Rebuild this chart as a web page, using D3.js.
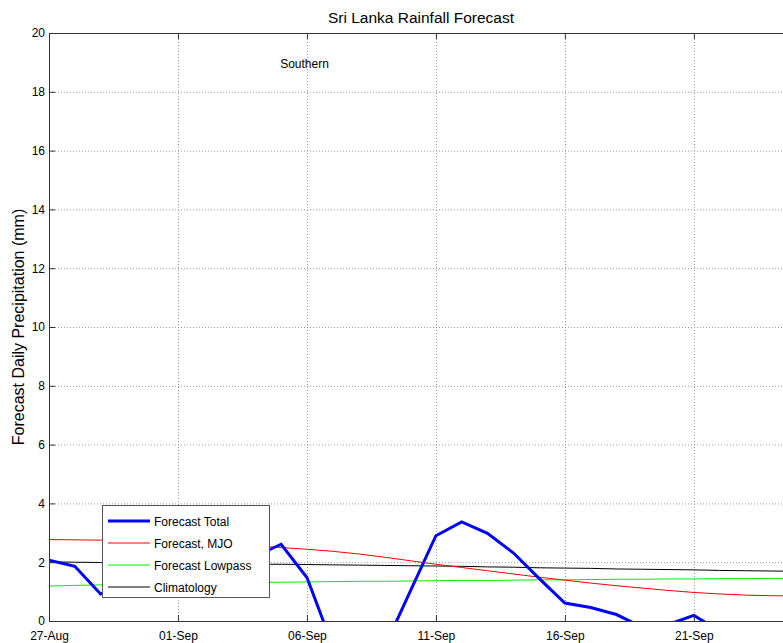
<!DOCTYPE html>
<html>
<head>
<meta charset="utf-8">
<script src="https://cdn.jsdelivr.net/npm/d3@7"></script>
<style>
  html, body { margin: 0; padding: 0; background: #fff; }
  svg { display: block; font-family: "Liberation Sans", Arial, Helvetica, sans-serif; }
</style>
</head>
<body>
<svg id="chart" width="783" height="643"></svg>
<script>
// Day offsets from 27-Aug (daily forecast steps)
const days = d3.range(30);

// Tick positions (day offsets) and their labels
const xTickDays = [0, 5, 10, 15, 20, 25];
const xTickLabels = ["27-Aug", "01-Sep", "06-Sep", "11-Sep", "16-Sep", "21-Sep"];
const yTicks = [0, 2, 4, 6, 8, 10, 12, 14, 16, 18, 20];

// Series values, mm/day (values below zero are clipped by the axes box)
const forecastTotal = [2.07, 1.86, 0.92, 1.3, 1.7, 2.0, 2.2, 2.3, 2.2, 2.61,
                       1.48, -0.85, -1.2, -0.91, 1.0, 2.9, 3.37, 2.98, 2.32, 1.45,
                       0.61, 0.46, 0.22, -0.21, -0.12, 0.19, -0.34, -0.5, -0.6, -0.5];
const forecastMJO = [2.77, 2.76, 2.75, 2.73, 2.70, 2.67, 2.63, 2.59, 2.55, 2.50,
                     2.44, 2.37, 2.28, 2.17, 2.05, 1.93, 1.82, 1.71, 1.60, 1.49,
                     1.39, 1.29, 1.20, 1.12, 1.04, 0.97, 0.92, 0.88, 0.86, 0.85];
const forecastLowpass = [1.19, 1.21, 1.23, 1.25, 1.27, 1.28, 1.29, 1.30, 1.31, 1.32,
                         1.33, 1.34, 1.35, 1.35, 1.36, 1.37, 1.38, 1.38, 1.39, 1.40,
                         1.40, 1.41, 1.42, 1.42, 1.43, 1.43, 1.44, 1.44, 1.45, 1.45];
const climatology = [2.01, 2.00, 1.99, 1.98, 1.97, 1.96, 1.95, 1.94, 1.93, 1.93,
                     1.92, 1.91, 1.90, 1.89, 1.88, 1.87, 1.86, 1.84, 1.83, 1.81,
                     1.80, 1.79, 1.77, 1.76, 1.75, 1.74, 1.72, 1.71, 1.70, 1.69];

const seriesNames = ["Forecast Total", "Forecast, MJO", "Forecast Lowpass", "Climatology"];
const seriesColors = ["#0000ff", "#ff0000", "#00ee00", "#000000"];
const seriesWidths = [3, 1, 1, 1];
const seriesValues = [forecastTotal, forecastMJO, forecastLowpass, climatology];

const svg = d3.select("#chart");
const box = { left: 49, top: 33, bottom: 621, right: 797 };

const x = d3.scaleLinear().domain([0, 29]).range([box.left, box.right]);
const y = d3.scaleLinear().domain([0, 20]).range([box.bottom, box.top]);

// Title
svg.append("text")
  .attr("x", (box.left + box.right) / 2 - 2).attr("y", 23)
  .attr("text-anchor", "middle")
  .style("font-size", "15.5px")
  .text("Sri Lanka Rainfall Forecast");

// Y axis title
svg.append("text")
  .attr("transform", `translate(24,${(box.top + box.bottom) / 2}) rotate(-90)`)
  .attr("text-anchor", "middle")
  .style("font-size", "16px")
  .text("Forecast Daily Precipitation (mm)");

// Dotted grid
const grid = svg.append("g").attr("class", "grid");
grid.selectAll("line.h").data(yTicks.filter(d => d > 0 && d < 20)).join("line")
  .attr("class", "h")
  .attr("x1", box.left).attr("x2", box.right)
  .attr("y1", d => y(d) + 0.5).attr("y2", d => y(d) + 0.5)
  .attr("stroke", "#9a9a9a").attr("stroke-dasharray", "1,2");
grid.selectAll("line.v").data(xTickDays.filter(d => d > 0)).join("line")
  .attr("class", "v")
  .attr("x1", d => Math.round(x(d)) + 0.5).attr("x2", d => Math.round(x(d)) + 0.5)
  .attr("y1", box.top).attr("y2", box.bottom)
  .attr("stroke", "#9a9a9a").attr("stroke-dasharray", "1,2");

// Data lines, clipped to the axes box
svg.append("clipPath").attr("id", "plotClip")
  .append("rect").attr("x", box.left).attr("y", box.top)
  .attr("width", box.right - box.left).attr("height", box.bottom - box.top);

const line = d3.line().x((d, i) => x(days[i])).y(d => y(d));
const plot = svg.append("g").attr("clip-path", "url(#plotClip)");
// draw thin series first, bold total on top
[3, 2, 1, 0].forEach(k => {
  plot.append("path")
    .datum(seriesValues[k])
    .attr("fill", "none")
    .attr("stroke", seriesColors[k])
    .attr("stroke-width", seriesWidths[k])
    .attr("stroke-linejoin", "miter")
    .attr("d", line);
});

// Axes box and tick marks (ticks point inward)
const axisColor = "#333";
const xAxisBottom = d3.axisBottom(x).tickValues(xTickDays)
  .tickFormat((d, i) => xTickLabels[i]).tickSizeInner(-6).tickSizeOuter(0).tickPadding(8);
const gx = svg.append("g").attr("transform", `translate(0,${box.bottom})`).call(xAxisBottom);
const xAxisTop = d3.axisTop(x).tickValues(xTickDays).tickFormat("").tickSizeInner(-6).tickSizeOuter(0);
const gxt = svg.append("g").attr("transform", `translate(0,${box.top})`).call(xAxisTop);
const yAxis = d3.axisLeft(y).tickValues(yTicks).tickFormat(d3.format("d"))
  .tickSizeInner(-6).tickSizeOuter(0).tickPadding(4);
const gy = svg.append("g").attr("transform", `translate(${box.left},0)`).call(yAxis);

[gx, gxt, gy].forEach(g => {
  g.select(".domain").attr("stroke", axisColor);
  g.selectAll(".tick line").attr("stroke", axisColor);
  g.selectAll(".tick text").attr("fill", "#000")
    .style("font-size", "12px")
    .style("font-family", "'Liberation Sans', Arial, sans-serif");
});
gx.selectAll(".tick text").attr("dy", "0.9em");

// Region label
svg.append("text")
  .attr("x", 304.5).attr("y", 68)
  .attr("text-anchor", "middle")
  .style("font-size", "12px")
  .text("Southern");

// Legend
const lg = svg.append("g").attr("transform", "translate(102,505)");
lg.append("rect")
  .attr("x", 0.5).attr("y", 0.5).attr("width", 167).attr("height", 92)
  .attr("fill", "#fff").attr("stroke", "#555");
const rows = lg.selectAll("g.row").data(seriesNames).join("g")
  .attr("class", "row")
  .attr("transform", (d, i) => `translate(0,${16 + i * 22})`);
rows.append("line")
  .attr("x1", 6).attr("x2", 48).attr("y1", 0).attr("y2", 0)
  .attr("stroke", (d, i) => seriesColors[i])
  .attr("stroke-width", (d, i) => seriesWidths[i]);
rows.append("text")
  .attr("x", 52).attr("y", 4.5)
  .style("font-size", "12px")
  .text(d => d);
</script>
</body>
</html>
